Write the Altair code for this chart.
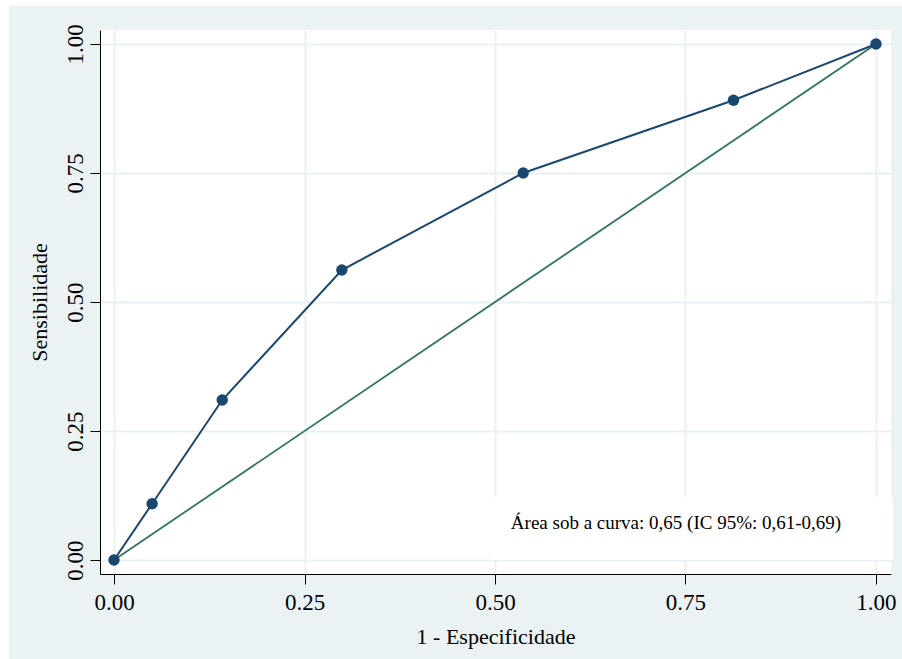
import altair as alt
import pandas as pd

# ROC curve points (1 - specificity, sensitivity)
fpr = [0.0, 0.050, 0.142, 0.299, 0.537, 0.813, 1.0]
tpr = [0.0, 0.109, 0.310, 0.562, 0.750, 0.891, 1.0]
# reference diagonal
ref_x = [0.0, 1.0]
ref_y = [0.0, 1.0]
ticks = [0.0, 0.25, 0.5, 0.75, 1.0]
x_title = "1 - Especificidade"
y_title = "Sensibilidade"
note = ["Área sob a curva: 0,65 (IC 95%: 0,61-0,69)"]

roc = pd.DataFrame({"x": fpr, "y": tpr})
ref = pd.DataFrame({"x": ref_x, "y": ref_y})
note_df = pd.DataFrame({"t": note})
one = pd.DataFrame({"k": [0]})

W, H = 791, 544
FONT = "Liberation Serif"
NAVY = "#1A476F"
TEAL = "#2F7466"
GRID = "#EAF2F3"

xs = alt.Scale(domain=[-0.0184, 1.0197], nice=False, zero=False)
ys = alt.Scale(domain=[-0.0271, 1.0271], nice=False, zero=False)

xaxis = alt.Axis(
    values=ticks, format=".2f", title=x_title, grid=True, gridColor=GRID, gridWidth=2,
    domainColor="black", domainWidth=1, tickColor="black", tickSize=10, tickWidth=1,
    labelFont=FONT, labelFontSize=23, labelColor="black", labelBaseline="alphabetic",
    labelPadding=25, labelFlush=False, labelOverlap=False,
    titleFont=FONT, titleFontSize=22, titleFontWeight="normal", titleColor="black",
    titleBaseline="alphabetic", titleX=W / 2, titleY=69,
)
yaxis = alt.Axis(
    values=ticks, format=".2f", title=y_title, grid=True, gridColor=GRID, gridWidth=2,
    domainColor="black", domainWidth=1, tickColor="black", tickSize=10, tickWidth=1,
    labelFont=FONT, labelFontSize=23, labelColor="black", labelAngle=270,
    labelAlign="center", labelBaseline="alphabetic", labelPadding=8,
    labelFlush=False, labelOverlap=False,
    titleFont=FONT, titleFontSize=22, titleFontWeight="normal", titleColor="black",
    titleBaseline="alphabetic", titleAngle=270, titleX=-54, titleY=H / 2,
)

curve = alt.Chart(roc).mark_line(color=NAVY, strokeWidth=2).encode(
    x=alt.X("x:Q", scale=xs, axis=xaxis),
    y=alt.Y("y:Q", scale=ys, axis=yaxis),
)
points = alt.Chart(roc).mark_circle(color=NAVY, size=130, opacity=1).encode(
    x=alt.X("x:Q", scale=xs), y=alt.Y("y:Q", scale=ys)
)
diag = alt.Chart(ref).mark_line(color=TEAL, strokeWidth=1.8).encode(
    x=alt.X("x:Q", scale=xs), y=alt.Y("y:Q", scale=ys)
)

box = alt.Chart(note_df).mark_rect(color="white").encode(
    x=alt.value(390), x2=alt.value(793), y=alt.value(467), y2=alt.value(530)
)
txt = alt.Chart(note_df).mark_text(
    font=FONT, fontSize=19, align="center", baseline="alphabetic", color="black"
).encode(x=alt.value(576), y=alt.value(499), text="t:N")

strip_top = alt.Chart(one).mark_rect(color="white").encode(
    x=alt.value(-100), x2=alt.value(802), y=alt.value(-30), y2=alt.value(-24)
)
strip_left = alt.Chart(one).mark_rect(color="white").encode(
    x=alt.value(-100), x2=alt.value(-91), y=alt.value(-30), y2=alt.value(629)
)

chart = alt.layer(curve, diag, points, box, txt, strip_top, strip_left).properties(
    width=W, height=H,
    padding={"left": 100, "top": 30, "right": 11, "bottom": 85},
    autosize=alt.AutoSizeParams(type="none"),
    background="#EAF2F3",
).configure_view(fill="white", strokeWidth=0)

chart.save("out.html", embed_options={"renderer": "svg", "actions": False})
